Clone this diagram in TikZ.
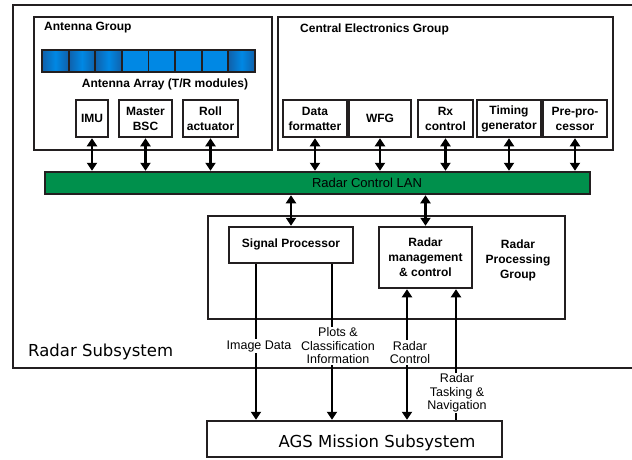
\documentclass[tikz,border=0pt]{standalone}
\usepackage{fontspec}
\setmainfont{Liberation Sans}
\newfontfamily\djv{DejaVu Sans}
\usetikzlibrary{arrows.meta}
\definecolor{lc}{RGB}{35,31,32}
\definecolor{lanG}{RGB}{0,144,76}
\definecolor{blueL}{RGB}{0,136,228}
\definecolor{blueD}{RGB}{16,96,170}
\tikzset{
  grp/.style={draw=lc, line width=2.5pt, fill=white, inner sep=0pt},
  box/.style={draw=lc, line width=2.5pt, fill=white, inner sep=0pt, align=center,
    font=\bfseries\fontsize{12}{15}\selectfont},
  btxt/.style={inner sep=0pt, align=center, font=\bfseries\fontsize{12}{15}\selectfont},
  lbl/.style={fill=white, inner sep=1pt, align=center, font=\fontsize{12.5}{13.5}\selectfont},
  big/.style={inner sep=0pt, font=\djv\fontsize{16.5}{18}\selectfont},
  tip/.tip={Triangle[width=10pt,length=8pt]},
  dbl/.style={draw=black, line width=2.2pt, tip-tip},
  arr/.style={draw=black, line width=2.2pt, -tip},
}
\begin{document}
\begin{tikzpicture}[x=1pt,y=-1pt]
\useasboundingbox (0,0) rectangle (632,459);
% Radar subsystem outer frame
\draw[lc, line width=2.2pt] (634,5) -- (13,5) -- (13,368) -- (634,368);
\node[big, anchor=west] (rsub) at (28,352) {Radar Subsystem};

% groups
\node[grp, minimum width=238pt, minimum height=133pt] (antgrp) at (153,83.5) {};
\node[grp, minimum width=335pt, minimum height=133pt] (cegrp) at (445.5,83.5) {};
\node[btxt, anchor=west] (antlbl) at (44,28) {Antenna Group};
\node[btxt, anchor=west] (celbl) at (300,29) {Central Electronics Group};

% antenna array
\foreach \i in {0,...,7} {
  \pgfmathsetmacro{\xa}{42+\i*26.625}
  \pgfmathsetmacro{\xb}{42+(\i+1)*26.625}
  \ifnum\i<3
    \shade[left color=blueD, right color=blueD, middle color=blueL] (\xa,50) rectangle (\xb,72);
  \else\ifnum\i=7
    \shade[left color=blueD, right color=blueD, middle color=blueL] (\xa,50) rectangle (\xb,72);
  \else
    \fill[blueL] (\xa,50) rectangle (\xb,72);
  \fi\fi
  \draw[lc, line width=1.8pt] (\xa,50) rectangle (\xb,72);
}
\node[btxt] (arrlbl) at (165,84) {Antenna Array (T/R modules)};

% unit boxes
\node[box, minimum width=32pt, minimum height=37pt] (imu) at (92,118.5) {\raisebox{-4pt}{IMU}};
\node[box, minimum width=53pt, minimum height=37pt] (bsc) at (145.5,118.5) {Master\\BSC};
\node[box, minimum width=55pt, minimum height=37pt] (roll) at (210.5,118.5) {Roll\\actuator};
\node[box, minimum width=64pt, minimum height=37pt] (df) at (315,118.5) {Data\\formatter};
\node[box, minimum width=62pt, minimum height=37pt] (wfg) at (380,118.5) {\raisebox{-3pt}{WFG}};
\node[box, minimum width=55pt, minimum height=37pt] (rx) at (445.5,118.5) {Rx\\control};
\node[box, minimum width=64pt, minimum height=37pt] (tg) at (509,118.5) {Timing\\generator};
\node[box, minimum width=64pt, minimum height=37pt] (pp) at (575,118.5) {Pre-pro-\\cessor};

% LAN
\node[draw=lc, line width=2.5pt, fill=lanG, minimum width=545pt, minimum height=22pt, inner sep=0pt] (lan) at (317.5,183) {};
\node[inner sep=0pt, font=\fontsize{13}{15}\selectfont] (lanlbl) at (367,183) {Radar Control LAN};

\foreach \b in {imu,bsc,roll,df,wfg,rx,tg,pp}
  \draw[dbl] (\b.south) -- (\b.south |- lan.north);

% radar processing group
\node[draw=lc, line width=2.2pt, fill=white, minimum width=357pt, minimum height=103pt, inner sep=0pt] (rpg) at (386.5,267.5) {};
\node[btxt] (rpglbl) at (518,260) {Radar\\Processing\\Group};
\node[box, minimum width=124pt, minimum height=36pt, text depth=0pt] (sp) at (291,245) {\raisebox{3pt}{Signal Processor}};
\node[box, minimum width=93pt, minimum height=61pt] (rm) at (425.5,257.5) {Radar\\management\\\& control};

\draw[dbl] (sp.north) -- (sp.north |- lan.south);
\draw[dbl] (rm.north) -- (rm.north |- lan.south);

% AGS mission subsystem
\node[draw=lc, line width=2.5pt, fill=white, minimum width=295pt, minimum height=36pt, inner sep=0pt] (ags) at (354.5,439) {};
\node[big] (agslbl) at (377,443) {AGS Mission Subsystem};

\coordinate (cImg) at (256,0);
\coordinate (cPlot) at (332,0);
\coordinate (cCtl) at (407,0);
\coordinate (cTask) at (456,0);
\draw[arr] (sp.south -| cImg) -- (ags.north -| cImg);
\draw[arr] (sp.south -| cPlot) -- (ags.north -| cPlot);
\draw[dbl] (ags.north -| cCtl) -- (rm.south -| cCtl);
\draw[arr] (ags.north -| cTask) -- (rm.south -| cTask);

\node[lbl] (limg) at (259,346) {Image Data};
\node[lbl] (lplot) at (338,346) {Plots \&\\Classification\\Information};
\node[lbl] (lctl) at (410,352.5) {Radar\\Control};
\node[lbl] (ltask) at (457,393) {Radar\\Tasking \&\\Navigation};
\end{tikzpicture}
\end{document}
